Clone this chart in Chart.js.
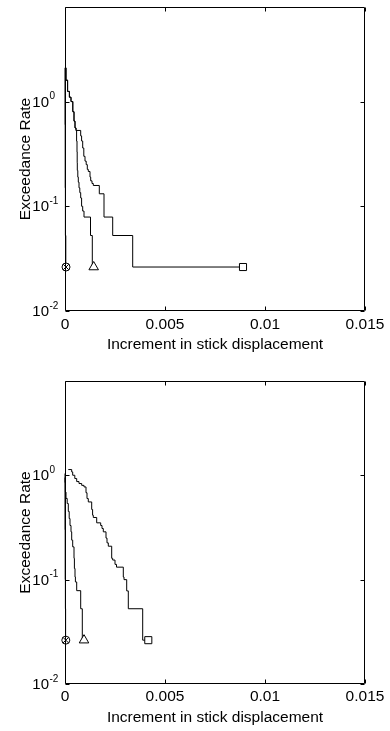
<!DOCTYPE html>
<html>
<head>
<meta charset="utf-8">
<title>Exceedance rate vs increment in stick displacement</title>
<script src="https://cdn.jsdelivr.net/npm/chart.js@4.4.1/dist/chart.umd.min.js"></script>
<style>
  body { margin: 0; background: #fff; }
  canvas { display: block; }
</style>
</head>
<body>
<canvas id="topChart" width="390" height="365"></canvas>
<canvas id="bottomChart" width="390" height="366"></canvas>
<script>
// axis ticks
const xTicks = [0, 0.005, 0.01, 0.015];
const xTickLabels = ['0', '0.005', '0.01', '0.015'];
const yTicks = [0.01, 0.1, 1];
const yTickExponents = ['-2', '-1', '0'];

// top panel - circle/x curve (sits on the axis)
const topCircleX = [0, 0.00001, 0.00002, 0.00004, 0.00005];
const topCircleRate = [2.1, 0.6, 0.15, 0.0526, 0.0263];
// top panel - triangle curve
const topTriX = [0.00005, 0.00013, 0.00022, 0.0003, 0.00039, 0.00045, 0.0005, 0.00055, 0.00058, 0.0006, 0.00061, 0.000615, 0.00064, 0.000665, 0.0007, 0.00074, 0.000785, 0.00083, 0.000885, 0.00095, 0.001275, 0.001365, 0.001435];
const topTriRate = [2.1, 1.6, 1.25, 1.1, 1.0, 0.8, 0.65, 0.56, 0.53, 0.42, 0.33, 0.26, 0.22, 0.19, 0.17, 0.15, 0.135, 0.12, 0.1, 0.09, 0.0789, 0.0526, 0.0263];
// top panel - square curve
const topSqX = [0.00005, 0.00013, 0.00022, 0.0003, 0.00039, 0.00045, 0.0005, 0.00055, 0.000785, 0.00083, 0.000885, 0.00094, 0.001, 0.00106, 0.001115, 0.001165, 0.00125, 0.001285, 0.00135, 0.001415, 0.001715, 0.00195, 0.002385, 0.003385, 0.0089];
const topSqRate = [2.1, 1.6, 1.25, 1.1, 1.0, 0.8, 0.65, 0.56, 0.53, 0.47, 0.42, 0.36, 0.3, 0.27, 0.25, 0.225, 0.215, 0.19, 0.175, 0.165, 0.158, 0.1316, 0.0789, 0.0526, 0.0263];

// bottom panel - circle/x curve
const botCircleX = [0, 0.00001, 0.00002, 0.00003, 0.00004];
const botCircleRate = [0.95, 0.3, 0.1, 0.0526, 0.0263];
// bottom panel - triangle curve
const botTriX = [0, 0.00002, 0.00005, 0.00011, 0.000165, 0.00021, 0.00025, 0.0003, 0.000335, 0.000385, 0.00045, 0.00047, 0.0005, 0.00052, 0.000585, 0.000785, 0.000865, 0.00095];
const botTriRate = [1.04, 0.85, 0.69, 0.6, 0.536, 0.45, 0.385, 0.33, 0.287, 0.239, 0.206, 0.16, 0.128, 0.106, 0.095, 0.0784, 0.0526, 0.0263];
// bottom panel - square curve
const botSqX = [0.000165, 0.000335, 0.000385, 0.00049, 0.000585, 0.0007, 0.000835, 0.00095, 0.00105, 0.0011, 0.001165, 0.001335, 0.00138, 0.001415, 0.001585, 0.001785, 0.00185, 0.001915, 0.00205, 0.0021, 0.002165, 0.002335, 0.002385, 0.0025, 0.002575, 0.002915, 0.00295, 0.003085, 0.003165, 0.003885, 0.004165];
const botSqRate = [1.134, 1.134, 1.076, 1.0, 0.93, 0.87, 0.833, 0.8, 0.773, 0.68, 0.598, 0.555, 0.47, 0.414, 0.394, 0.35, 0.33, 0.309, 0.287, 0.25, 0.225, 0.209, 0.16, 0.154, 0.14, 0.1317, 0.106, 0.1, 0.078, 0.0526, 0.0263];

const FONT = "'Liberation Sans', Arial, Helvetica, sans-serif";
const FONT_SIZE = 15.5;

function zip(xs, ys) {
    return xs.map((x, i) => ({ x: x, y: ys[i] }));
}

// step line for one curve
function stepSet(xs, ys) {
    return {
        data: zip(xs, ys),
        showLine: true,
        stepped: 'after',
        borderColor: '#000',
        borderWidth: 1,
        pointRadius: 0,
        clip: false,
        order: 2
    };
}

// end marker of a curve
function markerSet(xs, ys, style, radius) {
    const n = xs.length - 1;
    return {
        data: [{ x: xs[n], y: ys[n] }],
        pointStyle: style,
        pointRadius: radius,
        pointBorderColor: '#000',
        pointBackgroundColor: '#fff',
        pointBorderWidth: 1,
        clip: false,
        order: style === 'crossRot' ? 0 : 1
    };
}

// frame, inward ticks and 10^n labels
const framePlugin = {
    id: 'frame',
    afterDraw(chart) {
        const ctx = chart.ctx;
        const a = chart.chartArea;
        const xs = chart.scales.x, ys = chart.scales.y;
        const L = Math.round(a.left) + 0.5, R = Math.round(a.right) - 0.5;
        const T = Math.round(a.top) + 0.5, B = Math.round(a.bottom) - 0.5;
        ctx.save();
        ctx.strokeStyle = '#000';
        ctx.lineWidth = 1;
        ctx.beginPath();
        ctx.rect(L, T, R - L, B - T);
        xTicks.forEach(v => {
            const px = Math.round(xs.getPixelForValue(v)) + 0.5;
            ctx.moveTo(px, B); ctx.lineTo(px, B - 4);
            ctx.moveTo(px, T); ctx.lineTo(px, T + 4);
        });
        yTicks.forEach(v => {
            const py = Math.round(ys.getPixelForValue(v)) + 0.5;
            ctx.moveTo(L, py); ctx.lineTo(L + 4, py);
            ctx.moveTo(R, py); ctx.lineTo(R - 4, py);
        });
        ctx.stroke();

        ctx.fillStyle = '#000';
        ctx.textBaseline = 'middle';
        yTicks.forEach((v, i) => {
            const py = ys.getPixelForValue(v);
            ctx.font = '15px ' + FONT;
            ctx.textAlign = 'right';
            ctx.fillText('10', a.left - 16, py + 1);
            ctx.font = '10px ' + FONT;
            ctx.textAlign = 'left';
            ctx.fillText(yTickExponents[i], a.left - 15.5, py - 5);
        });
        ctx.restore();
    }
};

function makePanel(id, curves, cfg) {
    const datasets = [];
    curves.forEach(c => datasets.push(stepSet(c.x, c.y)));
    curves.forEach(c => {
        if (c.marker === 'circleX') {
            datasets.push(markerSet(c.x, c.y, 'circle', 4));
            datasets.push(markerSet(c.x, c.y, 'crossRot', 4));
        } else if (c.marker === 'triangle') {
            datasets.push(markerSet(c.x, c.y, 'triangle', 5.5));
        } else {
            datasets.push(markerSet(c.x, c.y, 'rect', 5));
        }
    });

    return new Chart(document.getElementById(id).getContext('2d'), {
        type: 'scatter',
        data: { datasets: datasets },
        options: {
            responsive: false,
            animation: false,
            events: [],
            layout: { padding: { top: cfg.top, right: 25, left: 0, bottom: 0 } },
            plugins: { legend: { display: false }, tooltip: { enabled: false } },
            scales: {
                x: {
                    type: 'linear',
                    min: 0,
                    max: 0.015,
                    afterBuildTicks: s => { s.ticks = xTicks.map(v => ({ value: v })); },
                    afterFit: s => { s.height = cfg.xHeight; },
                    grid: { display: false, drawTicks: false },
                    border: { display: false },
                    ticks: {
                        padding: cfg.tickPad,
                        maxRotation: 0,
                        color: '#000',
                        font: { family: FONT, size: FONT_SIZE },
                        callback: (v, i) => xTickLabels[i]
                    },
                    title: {
                        display: true,
                        text: 'Increment in stick displacement',
                        color: '#000',
                        font: { family: FONT, size: FONT_SIZE },
                        padding: { top: 0, bottom: cfg.titlePad }
                    }
                },
                y: {
                    type: 'logarithmic',
                    min: 0.01,
                    max: 8,
                    afterFit: s => { s.width = 65; },
                    grid: { display: false, drawTicks: false },
                    border: { display: false },
                    ticks: { display: false },
                    title: {
                        display: true,
                        text: 'Exceedance Rate',
                        color: '#000',
                        font: { family: FONT, size: FONT_SIZE },
                        padding: { top: 16, bottom: 0 }
                    }
                }
            }
        },
        plugins: [framePlugin]
    });
}

document.addEventListener('DOMContentLoaded', () => {
    makePanel('topChart', [
        { x: topCircleX, y: topCircleRate, marker: 'circleX' },
        { x: topTriX, y: topTriRate, marker: 'triangle' },
        { x: topSqX, y: topSqRate, marker: 'square' }
    ], { top: 7, xHeight: 54, tickPad: 4.7, titlePad: 10.7 });

    makePanel('bottomChart', [
        { x: botCircleX, y: botCircleRate, marker: 'circleX' },
        { x: botTriX, y: botTriRate, marker: 'triangle' },
        { x: botSqX, y: botSqRate, marker: 'square' }
    ], { top: 16, xHeight: 47, tickPad: 3.7, titlePad: 3.7 });
});
</script>
</body>
</html>
